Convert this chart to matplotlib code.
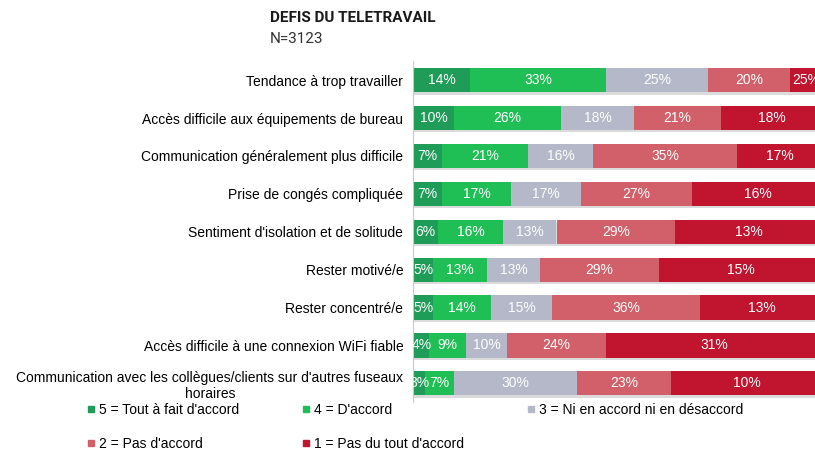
import matplotlib.pyplot as plt
import matplotlib.patheffects as pe
from matplotlib.lines import Line2D

# donnees
categories = [
    "Tendance à trop travailler",
    "Accès difficile aux équipements de bureau",
    "Communication généralement plus difficile",
    "Prise de congés compliquée",
    "Sentiment d'isolation et de solitude",
    "Rester motivé/e",
    "Rester concentré/e",
    "Accès difficile à une connexion WiFi fiable",
    "Communication avec les collègues/clients sur d'autres fuseaux\nhoraires",
]
tout_fait = [14, 10, 7, 7, 6, 5, 5, 4, 3]
d_accord = [33, 26, 21, 17, 16, 13, 14, 9, 7]
neutre = [25, 18, 16, 17, 13, 13, 15, 10, 30]
pas_d_accord = [20, 21, 35, 27, 29, 29, 36, 24, 23]
pas_du_tout = [25, 18, 17, 16, 13, 15, 13, 31, 10]  # etiquettes affichees

legend_labels = ["5 = Tout à fait d'accord", "4 = D'accord",
                 "3 = Ni en accord ni en désaccord", "2 = Pas d'accord",
                 "1 = Pas du tout d'accord"]
colors = ["#1e9c58", "#1fbf55", "#b5b8c8", "#d2606a", "#c0142f"]

plt.rcParams['font.family'] = 'Liberation Sans'

fig = plt.figure(figsize=(8.15, 4.5), dpi=100)
ax = fig.add_axes([413 / 815, 0.106, 410 / 815, 0.758])

y = list(range(len(categories)))
# la barre rouge fonce remplit le reste jusqu'a 100 (comme dans l'original)
reste = [100 - a - b - c - d for a, b, c, d in zip(tout_fait, d_accord, neutre, pas_d_accord)]
series = [tout_fait, d_accord, neutre, pas_d_accord, reste]
texts = [tout_fait, d_accord, neutre, pas_d_accord, pas_du_tout]

shadow = [pe.SimplePatchShadow(offset=(0.8, -1.6), shadow_rgbFace='#999999', alpha=0.35), pe.Normal()]
left = [0] * len(categories)
for vals, txt, col in zip(series, texts, colors):
    bars = ax.barh(y, vals, left=left, height=0.64, color=col, edgecolor='none')
    for b in bars:
        b.set_path_effects(shadow)
    for i in range(len(y)):
        ax.text(left[i] + vals[i] / 2, y[i], str(txt[i]) + "%", ha='center', va='center',
                color='white', fontsize=10)
    left = [l + v for l, v in zip(left, vals)]

ax.set_xlim(0, 100)
ax.set_ylim(len(categories) - 0.5, -0.5)
ax.set_yticks(y)
ax.set_yticklabels(categories, fontsize=10, multialignment='center')
ax.tick_params(axis='y', length=0, pad=7)
ax.set_xticks([])
for s in ['top', 'right', 'bottom']:
    ax.spines[s].set_visible(False)
ax.spines['left'].set_color('#c8c8c8')
ax.spines['left'].set_linewidth(0.8)

fig.text(270 / 815, 1 - 18 / 450, "DEFIS DU TELETRAVAIL", fontsize=11, fontweight='bold',
         family='Roboto', va='center', color='#1a1a1a')
fig.text(270 / 815, 1 - 39 / 450, "N=3123", fontsize=11, family='Roboto', va='center',
         color='#333333')

handles = [Line2D([], [], marker='s', linestyle='none', markersize=5, color=c) for c in colors]
order = [0, 3, 1, 4, 2]
fig.legend([handles[i] for i in order], [legend_labels[i] for i in order],
           loc='upper left', bbox_to_anchor=(75 / 815, 1 - 390 / 450), ncol=3,
           frameon=False, prop={'size': 10},
           handlelength=0.5, handletextpad=0.3, columnspacing=4.6, labelspacing=1.45)

fig.savefig("out.png", dpi=100)
